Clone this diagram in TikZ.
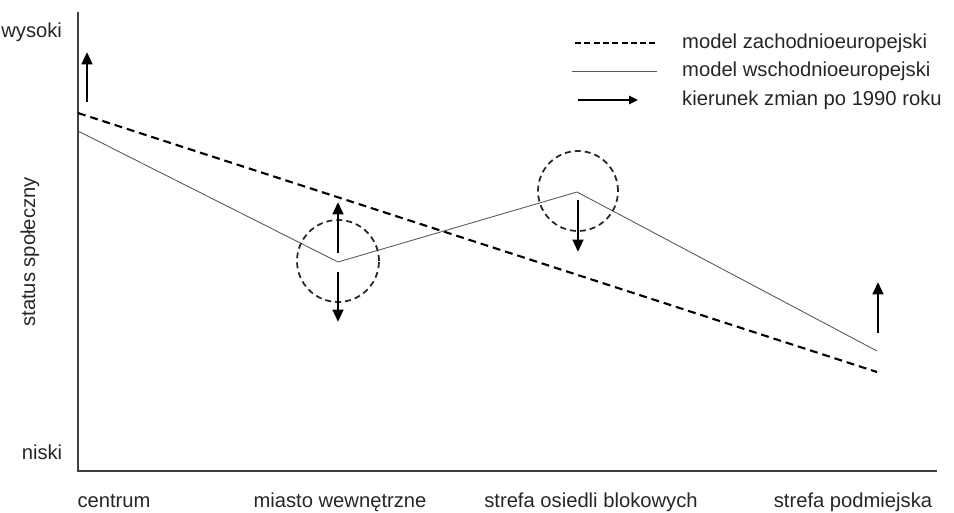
\documentclass[tikz,border=0pt]{standalone}
\usepackage{fontspec}
\setmainfont{Liberation Sans}
\usetikzlibrary{arrows}
\usetikzlibrary{arrows.meta}
\usetikzlibrary{calc}
\usepackage{xcolor}

\begin{document}
\begin{tikzpicture}[x=0.02cm,y=0.02cm,
    font=\fontsize{11.5}{13}\selectfont, text=black!85,
    axisline/.style={line width=0.7pt, black!75},
    westline/.style={line width=1.2pt, black, dash pattern=on 4.5pt off 2.8pt},
    eastline/.style={line width=0.5pt, black!65},
    ring/.style={line width=1pt, black!85, dash pattern=on 3.4pt off 2.3pt},
    change/.style={line width=1.5pt, black, -{Triangle[length=7pt,width=6pt]}}]
      \useasboundingbox (0,0) rectangle (954,512);

      % Axis
      \coordinate (O) at (78,41);
      \coordinate (Ytop) at (78,500);
      \coordinate (Xend) at (937,41);
      \draw[axisline] (Ytop) -- (O) -- (Xend);
      \node[anchor=west, inner sep=0pt] (high) at (1,480) {wysoki};
      \node (low) at (42,60) {niski};
      \node[rotate=90] (status) at (30,260) {status społeczny};

      % Zones on the x axis
      \foreach \x/\name/\txt in {114/z1/centrum, 340/z2/miasto wewnętrzne,
                                 591/z3/strefa osiedli blokowych, 853/z4/strefa podmiejska}
      {
        \node[anchor=base] (\name) at (\x,5) {\txt};
      }

      % Actual Plot
      \coordinate (W1) at (78,399);
      \coordinate (W2) at (877,140);
      \coordinate (E1) at (78,381);
      \coordinate (E2) at (338,250);
      \coordinate (E3) at (577,320);
      \coordinate (E4) at (877,161);
      \draw[westline] (W1) -- (W2);
      \draw[eastline] (E1) -- (E2) -- (E3) -- (E4);

      % Circles
      \draw[ring] (338,251) circle (41);
      \draw[ring] (578,321) circle (40);

      % Changes after 1990
      \foreach \x/\a/\b in {87/410/460, 338/259/310, 338/240/190, 578/312/260, 878/179/230}
      {
        \coordinate (S\x\a) at (\x,\a);
        \coordinate (T\x\a) at (\x,\b);
        \draw[change] (S\x\a) -- (T\x\a);
      }

      % Legend
      \coordinate (L1a) at (575,469); \coordinate (L1b) at (657,469);
      \coordinate (L2a) at (572,441); \coordinate (L2b) at (657,441);
      \coordinate (L3a) at (578,412); \coordinate (L3b) at (638,412);
      \draw[line width=0.6pt, black, dash pattern=on 3.4pt off 1.9pt] (L1a) -- (L1b);
      \draw[eastline] (L2a) -- (L2b);
      \draw[line width=1.5pt, black, -{Triangle[length=5pt,width=4.5pt]}] (L3a) -- (L3b);
      \node[anchor=west] (leg1) at (676,469) {model zachodnioeuropejski};
      \node[anchor=west] (leg2) at (676,441) {model wschodnioeuropejski};
      \node[anchor=west] (leg3) at (676,412) {kierunek zmian po 1990 roku};
  \end{tikzpicture}
\end{document}
